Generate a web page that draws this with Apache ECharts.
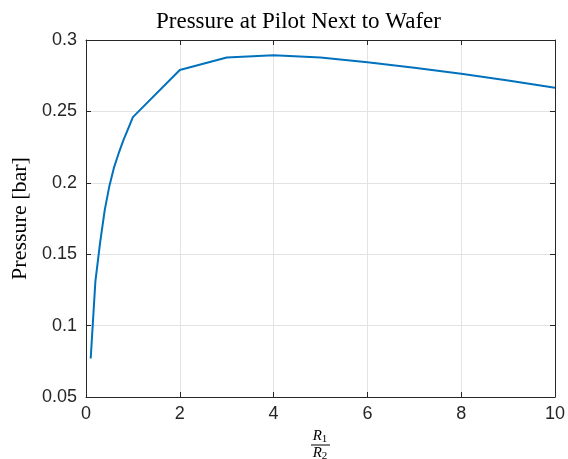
<!DOCTYPE html>
<html>
<head>
<meta charset="utf-8">
<script src="https://cdn.jsdelivr.net/npm/echarts@6/dist/echarts.min.js"></script>
<style>
  html, body { margin: 0; padding: 0; background: #fff; }
  #chart { width: 568px; height: 459px; }
</style>
</head>
<body>
<div id="chart"></div>
<script>
// ratio R1/R2 and pressure
var ratio = [0.1, 0.2, 0.3, 0.4, 0.5, 0.6, 0.7, 0.8, 0.9, 1, 2, 3, 4, 5, 6, 7, 8, 9, 10];
var pressure = [0.077, 0.131, 0.158, 0.181, 0.198, 0.211, 0.221, 0.230, 0.238, 0.246,
                0.279, 0.2877, 0.2893, 0.2878, 0.2845, 0.2805, 0.2763, 0.2716, 0.2665];

var chart = echarts.init(document.getElementById('chart'));

var axisCol = '#262626';
var tickFont = { fontFamily: 'Liberation Sans', fontSize: 18, color: axisCol };

var fracRich = {
    r: { fontFamily: 'Liberation Serif', fontStyle: 'italic', fontSize: 15, color: '#000' },
    s: { fontFamily: 'Liberation Serif', fontSize: 11, color: '#000', padding: [7, 0, 0, 0] }
};

var option = {
    animation: false,
    title: {
        text: 'Pressure at Pilot Next to Wafer',
        left: 151,
        top: 5,
        textStyle: { fontFamily: 'Liberation Serif', fontSize: 23, fontWeight: 'normal', color: '#000' }
    },
    grid: { left: 86, right: 13, top: 40, bottom: 62 },
    xAxis: [{
        type: 'value', min: 0, max: 10, interval: 2,
        axisLine: { show: true, lineStyle: { color: axisCol } },
        axisTick: { inside: true, length: 5, lineStyle: { color: axisCol } },
        axisLabel: Object.assign({ margin: 8 }, tickFont),
        splitLine: { show: true, lineStyle: { color: '#e3e3e3' } }
    }, {
        type: 'value', min: 0, max: 10, interval: 2, position: 'top',
        axisLine: { show: true, onZero: false, lineStyle: { color: axisCol } },
        axisTick: { inside: true, length: 5, lineStyle: { color: axisCol } },
        axisLabel: { show: false }, splitLine: { show: false }
    }],
    yAxis: [{
        type: 'value', min: 0.05, max: 0.3, interval: 0.05,
        name: 'Pressure [bar]', nameLocation: 'middle', nameGap: 53,
        nameTextStyle: { fontFamily: 'Liberation Serif', fontSize: 22, color: '#000' },
        axisLine: { show: true, lineStyle: { color: axisCol } },
        axisTick: { inside: true, length: 5, lineStyle: { color: axisCol } },
        axisLabel: Object.assign({ margin: 9, formatter: function (v) { return String(+v.toFixed(2)); } }, tickFont),
        splitLine: { show: true, lineStyle: { color: '#e3e3e3' } }
    }, {
        type: 'value', min: 0.05, max: 0.3, interval: 0.05, position: 'right',
        axisLine: { show: true, onZero: false, lineStyle: { color: axisCol } },
        axisTick: { inside: true, length: 5, lineStyle: { color: axisCol } },
        axisLabel: { show: false }, splitLine: { show: false }
    }],
    graphic: [
        { type: 'text', x: 320, y: 436, style: { text: '{r|R}{s|1}', rich: fracRich,
            align: 'center', verticalAlign: 'middle' } },
        { type: 'line', shape: { x1: 311, y1: 445, x2: 330, y2: 445 }, style: { stroke: '#000', lineWidth: 1 } },
        { type: 'text', x: 320, y: 453, style: { text: '{r|R}{s|2}', rich: fracRich,
            align: 'center', verticalAlign: 'middle' } }
    ],
    series: [{
        type: 'line',
        data: ratio.map(function (r, i) { return [r, pressure[i]]; }),
        showSymbol: false,
        lineStyle: { color: '#0072bd', width: 2 }
    }]
};

chart.setOption(option);
</script>
</body>
</html>
